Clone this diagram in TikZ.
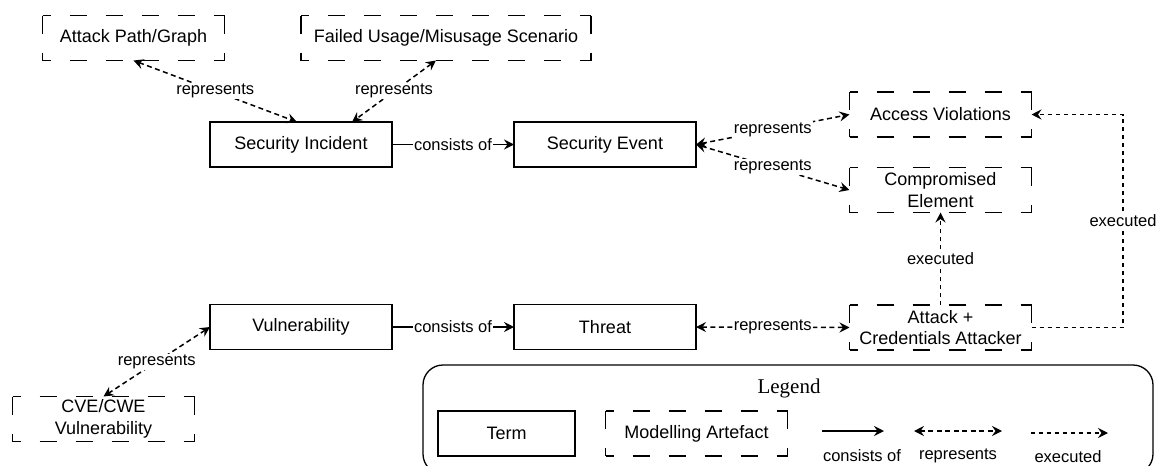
\documentclass[tikz,border=0pt]{standalone}
\usepackage{fontspec}
\setmainfont{Liberation Sans}
\newfontfamily\legserif{Liberation Serif}
\usetikzlibrary{arrows.meta}
\newcommand\boxfnt{\fontsize{18pt}{21.5pt}\selectfont}
\newcommand\lblfnt{\fontsize{16.5pt}{19pt}\selectfont}
\newcommand\legtitlefnt{\legserif\fontsize{21pt}{24pt}\selectfont}
\newcommand\artsides[1]{%
  \draw[vside] (#1.north west) -- (#1.south west);
  \draw[vside] (#1.north east) -- (#1.south east);
  \draw[hside] (#1.north west) -- (#1.north east);
  \draw[hside] (#1.south west) -- (#1.south east);}
\tikzset{
  term/.style={draw, line width=1.5pt, minimum width=182pt, minimum height=45pt,
    inner sep=0pt, outer sep=0pt, font=\boxfnt, align=center},
  artefact/.style={minimum width=182pt, minimum height=45pt,
    inner sep=0pt, outer sep=0pt, font=\boxfnt, align=center},
  vside/.style={line width=1.6pt, dash pattern=on 18pt off 19pt},
  hside/.style={line width=1.6pt, dash pattern=on 17pt off 19pt, dash phase=9pt},
  tipa/.tip={Stealth[length=10pt,width=10pt,inset=3.5pt]},
  consists/.style={line width=1.5pt, -tipa},
  repr/.style={line width=1.5pt, dash pattern=on 5pt off 3.5pt, tipa-tipa},
  exec/.style={line width=1.5pt, dash pattern=on 4pt off 4pt, -tipa},
  lbl/.style={fill=white, inner sep=1pt, font=\lblfnt},
}
\begin{document}
\begin{tikzpicture}[x=1pt,y=-1pt]
\useasboundingbox (0,0) rectangle (1157,466);

% terms
\node[term] (si)  at (301,144.5) {Security Incident};
\node[term] (se)  at (605,144.5) {Security Event};
\node[term] (vul) at (301,327) {Vulnerability};
\node[term] (thr) at (605,327) {Threat};

% artefacts
\node[artefact] (ap) at (133.5,38) {Attack Path/Graph}; \artsides{ap}
\node[artefact, minimum width=290pt] (fu) at (446,38) {Failed Usage/Misusage Scenario}; \artsides{fu}
\node[artefact] (av) at (940.5,114.5) {Access Violations}; \artsides{av}
\node[artefact] (ce) at (940.5,190) {Compromised\\Element}; \artsides{ce}
\node[artefact] (ac) at (940.5,327.5) {Attack +\\Credentials Attacker}; \artsides{ac}
\node[artefact] (cve) at (103.5,419) {CVE/CWE\\Vulnerability}; \artsides{cve}

% connectors
\draw[repr] (ap.south) -- node[lbl] {represents} ([xshift=-4pt]si.north);
\draw[repr] ([xshift=-10pt]fu.south) -- node[lbl] {represents} ([xshift=51pt]si.north);
\draw[consists] (si.east) -- node[lbl] {consists of} (se.west);
\draw[repr] (se.east) -- node[lbl] {represents} (av.west);
\draw[repr] (se.east) -- node[lbl] {represents} (ce.west);
\draw[consists] (vul.east) -- node[lbl] {consists of} (thr.west);
\draw[repr] (thr.east) -- node[lbl] {represents} (ac.west);
\draw[repr] (vul.west) -- node[lbl] {represents} (cve.north);
\draw[exec] (ac.north) -- node[lbl] {executed} (ce.south);
\coordinate (bend) at (1123,114.5);
\draw[exec] (ac.east) -| node[lbl, pos=0.75] {executed} (bend) -- (av.east);

% legend
\draw[line width=1.3pt, rounded corners=20pt] (423,365) rectangle (1153,474);
\node[font=\legtitlefnt] (legtitle) at (789,388) {Legend};
\node[term, minimum width=137pt] (legterm) at (506.5,433.5) {Term};
\node[artefact] (legart) at (696.5,433.5) {Modelling Artefact}; \artsides{legart}
\coordinate (lca) at (822,431); \coordinate (lcb) at (884,431);
\coordinate (lra) at (914,431); \coordinate (lrb) at (1002,431);
\coordinate (lea) at (1031,433); \coordinate (leb) at (1108,433);
\draw[consists] (lca) -- (lcb);
\draw[repr] (lra) -- (lrb);
\draw[exec] (lea) -- (leb);
\node[font=\lblfnt] (lcl) at (862,456) {consists of};
\node[font=\lblfnt] (lrl) at (958,456) {represents};
\node[font=\lblfnt] (lel) at (1068,457) {executed};
\end{tikzpicture}
\end{document}
